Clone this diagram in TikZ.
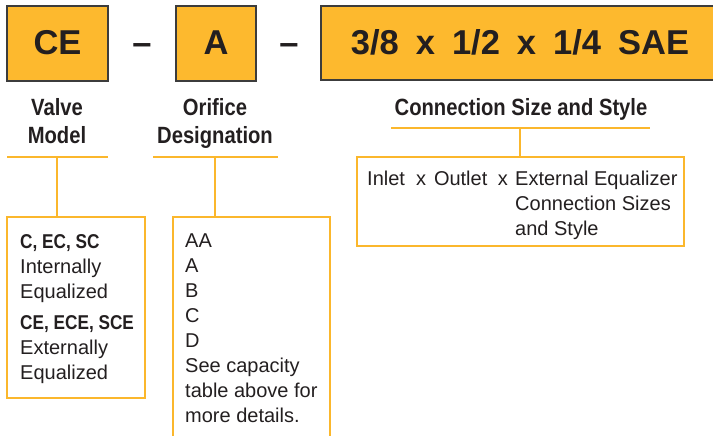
\documentclass[tikz,border=0pt]{standalone}
\usepackage{fontspec}
\setmainfont{Liberation Sans}
\newfontfamily\condfont[FakeStretch=0.86]{Liberation Sans}
\definecolor{gold}{RGB}{253,185,46}
\definecolor{lineor}{RGB}{251,183,44}
\definecolor{ink}{RGB}{35,31,32}
\definecolor{edge}{RGB}{60,60,60}
\tikzset{
  codebox/.style={draw=edge, line width=1.3pt, fill=gold},
  codetext/.style={text=ink, inner sep=0pt, font=\bfseries\fontsize{34.5}{40}\selectfont},
  label/.style={text=ink, inner sep=0pt, align=center, font=\condfont\bfseries\fontsize{23.5}{28}\selectfont},
  bar/.style={draw=lineor, line width=2.5pt},
  infobox/.style={draw=lineor, line width=2.5pt},
  infotext/.style={text=ink, inner sep=0pt, align=left, font=\fontsize{20}{25}\selectfont}
}
\begin{document}
\begin{tikzpicture}[x=1pt,y=-1pt]
\useasboundingbox (0,0) rectangle (713,436);
% code boxes
\draw[codebox] (7,6) rectangle (108,81);
\draw[codebox] (176,6) rectangle (256,81);
\draw[codebox] (321,6) rectangle (718,80);
\node[codetext, anchor=base] (ce) at (57.5,55) {CE};
\node[codetext, anchor=base] (dashA) at (142,55) {–};
\node[codetext, anchor=base] (a) at (216,55) {A};
\node[codetext, anchor=base] (dashB) at (289,55) {–};
\node[codetext, anchor=base] (sae) at (520,55) {\spaceskip=17pt 3/8 x 1/2 x 1/4 SAE};
% labels (base anchor = last line)
\node[label, anchor=base] (valve) at (57,143) {Valve\\Model};
\node[label, anchor=base] (orifice) at (215,143) {Orifice\\Designation};
\node[label, anchor=base] (conn) at (521,115) {Connection Size and Style};
% bars and connectors
\coordinate (v1) at (7,157); \coordinate (v2) at (108,157); \coordinate (vm) at (57,157);
\coordinate (o1) at (153,157); \coordinate (o2) at (278,157); \coordinate (om) at (215,157);
\coordinate (c1) at (391,128); \coordinate (c2) at (650,128); \coordinate (cm) at (520,128);
\draw[bar] (v1) -- (v2);
\draw[bar] (o1) -- (o2);
\draw[bar] (c1) -- (c2);
\draw[infobox] (7,217) rectangle (145,398);
\draw[infobox] (173,440) |- (330,217) -- (330,440);
\draw[infobox] (357,157) rectangle (684,246);
\coordinate (vb) at (57,217);
\coordinate (ob) at (215,217);
\coordinate (cb) at (520,157);
\draw[bar] (vm) -- (vb);
\draw[bar] (om) -- (ob);
\draw[bar] (cm) -- (cb);
% box texts (base anchor = last line)
\node[infotext, anchor=base west] (models) at (20,379) {{\condfont\bfseries C, EC, SC}\\Internally\\Equalized\\[6pt]{\condfont\bfseries CE, ECE, SCE}\\Externally\\Equalized};
\node[infotext, anchor=base west] (sizes) at (185,422) {AA\\A\\B\\C\\D\\See capacity\\table above for\\more details.};
\node[infotext, anchor=base west] (inout) at (367,185) {Inlet\hspace{11pt}x\hspace{8pt}Outlet\hspace{10.5pt}x};
\node[infotext, anchor=base west] (ext) at (515,235) {External Equalizer\\Connection Sizes\\and Style};
\end{tikzpicture}
\end{document}
